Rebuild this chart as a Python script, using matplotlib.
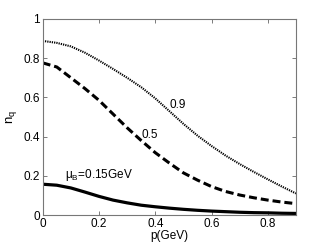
import numpy as np
import matplotlib
matplotlib.use('Agg')
from matplotlib import pyplot as plt

p = [0.0, 0.05, 0.1, 0.15, 0.2, 0.25, 0.3, 0.35, 0.4, 0.45,
     0.5, 0.55, 0.6, 0.65, 0.7, 0.75, 0.8, 0.85, 0.9]

# mu_B = 0.9 GeV (dotted)
n_09 = [0.888, 0.878, 0.860, 0.828, 0.788, 0.745, 0.700, 0.652, 0.595, 0.530,
        0.465, 0.405, 0.352, 0.303, 0.260, 0.220, 0.182, 0.145, 0.110]
# mu_B = 0.5 GeV (dashed)
n_05 = [0.776, 0.755, 0.700, 0.645, 0.585, 0.515, 0.445, 0.380, 0.318, 0.265,
        0.215, 0.178, 0.145, 0.120, 0.102, 0.088, 0.076, 0.066, 0.058]
# mu_B = 0.15 GeV (solid)
n_015 = [0.157, 0.152, 0.138, 0.117, 0.095, 0.076, 0.062, 0.050, 0.042, 0.035,
         0.029, 0.024, 0.020, 0.017, 0.014, 0.012, 0.011, 0.009, 0.008]

plt.rcParams['font.family'] = ['Liberation Sans', 'DejaVu Sans']
plt.rcParams['mathtext.fontset'] = 'custom'
plt.rcParams['mathtext.rm'] = 'Liberation Sans'
plt.rcParams['mathtext.it'] = 'Liberation Sans'

fig = plt.figure(figsize=(3.27, 2.46), dpi=100)
ax = fig.add_axes([0.1306, 0.126, 0.7744, 0.797])

ax.plot(p, n_09, color='black', lw=1.5, linestyle=(0, (0.6, 0.5)))
ax.plot(p, n_05, color='black', lw=2.2, linestyle=(0, (2.6, 1.3)))
ax.plot(p, n_015, color='black', lw=2.3, linestyle='-')

ax.text(0.452, 0.56, '0.9', fontsize=8.5, va='center')
ax.text(0.352, 0.408, '0.5', fontsize=8.5, va='center')
ax.text(0.079, 0.205, r'$\mathregular{\mu_B}$=0.15GeV', fontsize=8.5, va='center')

ax.set_xlim(0, 0.9)
ax.set_ylim(0, 1)
ax.set_xticks([0, 0.2, 0.4, 0.6, 0.8])
ax.set_xticklabels(['0', '0.2', '0.4', '0.6', '0.8'])
ax.set_yticks([0, 0.2, 0.4, 0.6, 0.8, 1])
ax.set_yticklabels(['0', '0.2', '0.4', '0.6', '0.8', '1'])
ax.tick_params(direction='in', length=3, width=0.6, labelsize=8.5, pad=2,
               top=True, right=True, colors='#666666', labelcolor='black')
for s in ax.spines.values():
    s.set_color('#777777')
    s.set_linewidth(0.8)

ax.set_xlabel('p(GeV)', fontsize=8.5, labelpad=0)
ax.set_ylabel(r'n$_\mathregular{q}$', fontsize=9.5, labelpad=3)

plt.savefig('out.png', dpi=100)
